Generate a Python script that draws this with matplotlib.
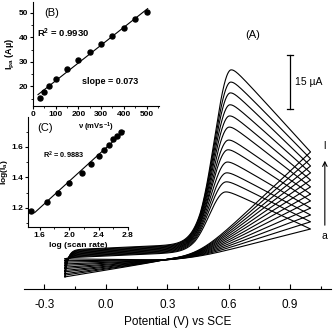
import numpy as np
import matplotlib
matplotlib.use('Agg')
import matplotlib.pyplot as plt
from matplotlib.ticker import MultipleLocator

plt.rcParams['font.family'] = ['Liberation Sans', 'DejaVu Sans']
plt.rcParams['mathtext.fontset'] = 'custom'
plt.rcParams['mathtext.rm'] = 'Liberation Sans'
plt.rcParams['mathtext.bf'] = 'Liberation Sans:bold'
plt.rcParams['mathtext.it'] = 'Liberation Sans:italic'

W, H = 333, 332

# ---- inset (B): peak current vs scan rate ----
scan_rate = [30, 50, 70, 100, 150, 200, 250, 300, 350, 400, 450, 500]
ipa = [15.4, 17.7, 20.1, 23.1, 26.9, 30.6, 34.0, 37.4, 40.5, 43.7, 47.3, 50.3]

# ---- inset (C): log(Ia) vs log(scan rate) ----
log_scan = [1.48, 1.70, 1.85, 2.00, 2.18, 2.30, 2.40, 2.48, 2.54, 2.60, 2.65, 2.70]
log_ia = [1.18, 1.24, 1.30, 1.36, 1.43, 1.49, 1.54, 1.58, 1.61, 1.65, 1.67, 1.70]

# ---- main (A): cyclic voltammograms a..l (uA) ----
curve_labels = list('abcdefghijkl')
peak_current = [18.9, 21.7, 24.2, 27.2, 30.6, 33.3, 36.9, 40.0, 43.1, 46.4, 49.4, 52.8]
peak_potential = [0.585, 0.588, 0.590, 0.593, 0.596, 0.599, 0.602, 0.604, 0.606, 0.608, 0.610, 0.612]
end_current = [8.6, 10.6, 12.5, 14.4, 16.4, 18.3, 20.3, 22.2, 24.2, 26.1, 28.1, 30.0]
fwd_base = [0.6, 0.8, 1.0, 1.2, 1.4, 1.6, 1.8, 2.0, 2.2, 2.4, 2.6, 2.8]
rev_start = [0.3, -0.2, -0.6, -1.1, -1.5, -2.0, -2.4, -2.9, -3.3, -3.8, -4.2, -4.7]
E_start, E_end = -0.2, 1.0


def forward(E, ip, Ep, iend, bf, r0):
    slope = 2.5
    base = bf + slope * (E - E_start) + (r0 - bf) * np.exp(-(E - E_start) / 0.015)
    d = np.clip(Ep - E, 0, None)
    w = 0.115 + 0.08 * np.clip(d - 0.15, 0, None)
    P = ip - (bf + slope * (Ep - E_start))
    Q = iend - (bf + slope * (E_end - E_start))
    x = (E - Ep) / (E_end - Ep)
    c = 0.06
    u = np.sqrt(x ** 2 + c ** 2) - c
    u1 = np.sqrt(1 + c ** 2) - c
    F = np.where(E < Ep, P * np.exp(-(d / w) ** 2), P - (P - Q) * u / u1)
    return base + F


def reverse(E, iend, r0):
    r3 = 0.0
    base = np.where(E < 0.3, r0 + (r3 - r0) * (E - E_start) / 0.5, r3 + 4 * (E - 0.3))
    s, E1 = 0.06, 0.45
    sp = s * np.logaddexp(0, (E - E1) / s)
    b1 = r3 + 4 * (E_end - 0.3)
    m = (iend - b1) / (s * np.logaddexp(0, (E_end - E1) / s))
    return base + m * sp


fig = plt.figure(figsize=(W / 100, H / 100), dpi=100)

# main axes
ax = fig.add_axes([24 / W, 1 - 289 / H, (331 - 24) / W, 289 / H])
ax.patch.set_alpha(0)
E = np.linspace(E_start, E_end, 800)
for k in range(len(curve_labels)):
    f = forward(E, peak_current[k], peak_potential[k], end_current[k], fwd_base[k], rev_start[k])
    r = reverse(E[::-1], end_current[k], rev_start[k])
    ax.plot(np.concatenate([E, E[::-1]]), np.concatenate([f, r]), color='black', lw=0.8)
ax.set_xlim(-0.4, 1.1)
ax.set_ylim(-8.06, 72.2)
for s in ['left', 'right', 'top']:
    ax.spines[s].set_visible(False)
ax.spines['bottom'].set_linewidth(0.8)
ax.set_yticks([])
ax.xaxis.set_minor_locator(MultipleLocator(0.15))
ax.set_xticks([-0.3, 0.0, 0.3, 0.6, 0.9])
ax.set_xticklabels(['-0.3', '0.0', '0.3', '0.6', '0.9'])
ax.tick_params(axis='x', which='major', direction='in', length=3.5, width=0.8, pad=7, labelsize=8.5)
ax.tick_params(axis='x', which='minor', direction='in', length=2.5, width=0.8)
ax.set_xlabel('Potential (V) vs SCE', fontsize=8.5, labelpad=4)

# annotations of main
ax.text(0.718, 62.5, '(A)', fontsize=8, ha='center', va='center')
xb = 0.899
ax.plot([xb, xb], [41.9, 56.9], color='black', lw=0.9)
ax.plot([xb - 0.015, xb + 0.015], [41.9, 41.9], color='black', lw=0.9)
ax.plot([xb - 0.015, xb + 0.015], [56.9, 56.9], color='black', lw=0.9)
ax.text(0.925, 49.4, '15 µA', fontsize=7.5, ha='left', va='center')
xa = (325 - 106) / 204.7
ax.annotate('', xy=(xa, (260 - 158) / 3.6), xytext=(xa, (260 - 228) / 3.6),
            arrowprops=dict(arrowstyle='->', lw=0.8, color='black', mutation_scale=8))
ax.text(xa, (260 - 146) / 3.6, curve_labels[-1], fontsize=7.5, ha='center', va='center')
ax.text(xa, (260 - 236) / 3.6, curve_labels[0], fontsize=7.5, ha='center', va='center')

# inset B
axb = fig.add_axes([33 / W, 1 - 106 / H, 126 / W, 104.4 / H])
axb.patch.set_alpha(0)
axb.plot(scan_rate, ipa, 'o', color='black', ms=3.6)
pb = np.polyfit(scan_rate, ipa, 1)
xf = np.array([22, 505])
axb.plot(xf, np.polyval(pb, xf), color='black', lw=0.8)
axb.set_xlim(0, 555)
axb.set_ylim(12, 54.5)
for s in ['right', 'top']:
    axb.spines[s].set_visible(False)
axb.xaxis.set_major_locator(MultipleLocator(100))
axb.xaxis.set_minor_locator(MultipleLocator(50))
axb.yaxis.set_major_locator(MultipleLocator(10))
axb.yaxis.set_minor_locator(MultipleLocator(5))
axb.tick_params(which='major', direction='out', length=2.5, width=0.8, pad=1, labelsize=6)
axb.tick_params(which='minor', direction='out', length=1.5, width=0.6)
for lab in axb.get_xticklabels() + axb.get_yticklabels():
    lab.set_fontweight('bold')
axb.set_ylabel(r'I$_\mathbf{pa}$ (Aµ)', fontsize=6.5, fontweight='bold', labelpad=1)
axb.set_xlabel(r'ν (mVs$^\mathbf{-1}$)', fontsize=5.5, fontweight='bold', labelpad=2)
axb.text(0.09, 0.89, '(B)', transform=axb.transAxes, fontsize=8, ha='left', va='center')
axb.text(0.03, 0.70, r'R$^\mathbf{2}$ = 0.9930', transform=axb.transAxes, fontsize=6.8,
         fontweight='bold', ha='left', va='center')
axb.text(0.39, 0.23, 'slope = 0.073', transform=axb.transAxes, fontsize=6.5,
         fontweight='bold', ha='left', va='center')

# inset C
axc = fig.add_axes([28 / W, 1 - 227 / H, 100 / W, 110 / H])
axc.patch.set_alpha(0)
axc.plot(log_scan, log_ia, 'o', color='black', ms=3.6)
pc = np.polyfit(log_scan, log_ia, 1)
xc = np.array([1.53, 2.75])
axc.plot(xc, np.polyval(pc, xc), color='black', lw=0.8)
axc.set_xlim(1.44, 2.8)
axc.set_ylim(1.075, 1.795)
for s in ['right', 'top']:
    axc.spines[s].set_visible(False)
axc.xaxis.set_minor_locator(MultipleLocator(0.2))
axc.yaxis.set_minor_locator(MultipleLocator(0.1))
axc.set_xticks([1.6, 2.0, 2.4, 2.8])
axc.set_xticklabels(['1.6', '2.0', '2.4', '2.8'])
axc.set_yticks([1.2, 1.4, 1.6])
axc.set_yticklabels(['1.2', '1.4', '1.6'])
axc.tick_params(which='major', direction='out', length=2.5, width=0.8, pad=1, labelsize=6)
axc.tick_params(which='minor', direction='out', length=1.5, width=0.6)
for lab in axc.get_xticklabels() + axc.get_yticklabels():
    lab.set_fontweight('bold')
axc.set_ylabel(r'log(I$_\mathbf{a}$)', fontsize=6, fontweight='bold', labelpad=1)
axc.set_xlabel('log (scan rate)', fontsize=6, fontweight='bold', labelpad=2)
axc.text(0.09, 0.9, '(C)', transform=axc.transAxes, fontsize=8, ha='left', va='center')
axc.text(0.15, 0.65, r'R$^\mathbf{2}$ = 0.9883', transform=axc.transAxes, fontsize=5.3,
         fontweight='bold', ha='left', va='center')

fig.savefig('out.png', dpi=100)
